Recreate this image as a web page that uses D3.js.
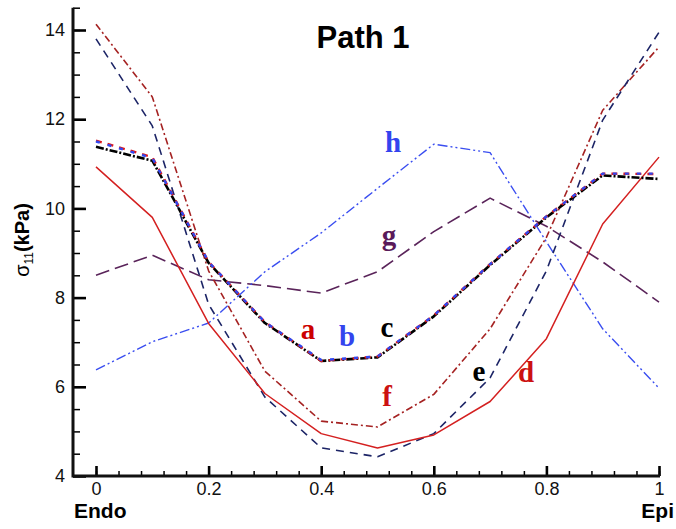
<!DOCTYPE html>
<html>
<head>
<meta charset="utf-8">
<script src="https://cdn.jsdelivr.net/npm/d3@7"></script>
<style>
  body { margin: 0; background: #fff; }
  svg { display: block; }
</style>
</head>
<body>
<svg id="chart" width="676" height="529"></svg>
<script>
// positions along the path (Endo -> Epi)
const xs    = [0, 0.1, 0.2, 0.3, 0.4, 0.5, 0.6, 0.7, 0.8, 0.9, 1.0];
const aVals = [11.52, 11.15, 8.80, 7.45, 6.58, 6.68, 7.60, 8.75, 9.82, 10.78, 10.77];
const bVals = [11.50, 11.13, 8.80, 7.45, 6.60, 6.68, 7.60, 8.75, 9.82, 10.78, 10.78];
const cVals = [11.38, 11.07, 8.78, 7.43, 6.58, 6.66, 7.58, 8.73, 9.80, 10.74, 10.66];
const dVals = [10.93, 9.80, 7.42, 5.85, 4.95, 4.63, 4.92, 5.67, 7.08, 9.65, 11.15];
const eVals = [13.80, 11.85, 7.85, 5.77, 4.63, 4.43, 4.95, 6.20, 8.60, 11.98, 13.95];
const fVals = [14.13, 12.50, 8.60, 6.35, 5.23, 5.10, 5.83, 7.30, 9.35, 12.20, 13.62];
const gVals = [8.50, 8.95, 8.40, 8.27, 8.10, 8.58, 9.48, 10.23, 9.60, 8.80, 7.90];
const hVals = [6.38, 7.01, 7.43, 8.58, 9.45, 10.45, 11.44, 11.25, 9.25, 7.30, 5.97];

const yMajor = [4, 6, 8, 10, 12, 14];
const xMajor = [0, 0.2, 0.4, 0.6, 0.8, 1];

const svg = d3.select("#chart");

const x = d3.scaleLinear().domain([0, 1]).range([96, 659]);
const y = d3.scaleLinear().domain([4, 14.5]).range([476, 7.7]);
const x0 = 73, yBase = y(4);

// series: values + style
const series = [
  { vals: gVals, color: "#5a245a", width: 1.6, dash: "14,6" },
  { vals: hVals, color: "#3a4ef0", width: 1.4, dash: "10,3,2,3,2,3" },
  { vals: fVals, color: "#a52222", width: 1.6, dash: "7,3,2,3" },
  { vals: eVals, color: "#1c2466", width: 1.6, dash: "8,6" },
  { vals: dVals, color: "#d42020", width: 1.5, dash: null },
  { vals: cVals, color: "#000000", width: 2.6, dash: "8,2,2,2" },
  { vals: aVals, color: "#e01818", width: 2.4, dash: "6,6" },
  { vals: bVals, color: "#3048f0", width: 2.4, dash: "4,8" }
];

const line = d3.line()
    .x((d, i) => x(xs[i]))
    .y(d => y(d));

svg.append("g").selectAll("path")
  .data(series).enter().append("path")
    .attr("d", d => line(d.vals))
    .attr("fill", "none")
    .attr("stroke", d => d.color)
    .attr("stroke-width", d => d.width)
    .attr("stroke-dasharray", d => d.dash)
    .attr("stroke-linejoin", "round");

// minor ticks
svg.append("g")
  .attr("transform", `translate(${x0},0)`)
  .call(d3.axisLeft(y).tickValues(d3.range(4, 14.6, 0.5)).tickSize(-7).tickFormat(""))
  .call(g => g.select(".domain").remove())
  .selectAll("line").attr("stroke-width", 1.5);

svg.append("g")
  .attr("transform", `translate(0,${yBase})`)
  .call(d3.axisBottom(x).tickValues(d3.range(0, 1.001, 0.04)).tickSize(-5).tickFormat(""))
  .call(g => g.select(".domain").remove())
  .selectAll("line").attr("stroke-width", 1.5);

// major ticks + labels
const yAx = svg.append("g")
  .attr("transform", `translate(${x0},0)`)
  .call(d3.axisLeft(y).tickValues(yMajor).tickSize(-13).tickPadding(8).tickFormat(d3.format("d")))
  .call(g => g.select(".domain").remove());
yAx.selectAll("line").attr("stroke-width", 2.6);
yAx.selectAll("text")
  .attr("font-family", "Liberation Sans, Arial, sans-serif")
  .attr("font-size", 18).attr("fill", "#111");

const xAx = svg.append("g")
  .attr("transform", `translate(0,${yBase})`)
  .call(d3.axisBottom(x).tickValues(xMajor).tickSize(-10).tickPadding(6)
    .tickFormat(d => d === 0 ? "0" : d === 1 ? "1" : d3.format(".1f")(d)))
  .call(g => g.select(".domain").remove());
xAx.selectAll("line").attr("stroke-width", 2.6);
xAx.selectAll("text")
  .attr("font-family", "Liberation Sans, Arial, sans-serif")
  .attr("font-size", 18).attr("fill", "#111");

// axis lines
svg.append("path")
  .attr("d", `M${x0},${y(14.5)}V${yBase}H${x(1) + 1}`)
  .attr("fill", "none")
  .attr("stroke", "#111")
  .attr("stroke-width", 3);

// title
svg.append("text")
  .attr("x", 363).attr("y", 48)
  .attr("text-anchor", "middle")
  .attr("font-family", "Liberation Sans, Arial, sans-serif")
  .attr("font-weight", "bold")
  .attr("font-size", 31)
  .text("Path 1");

// Endo / Epi
svg.append("text")
  .attr("x", 74).attr("y", 518)
  .attr("font-family", "Liberation Sans, Arial, sans-serif")
  .attr("font-weight", "bold").attr("font-size", 21)
  .text("Endo");
svg.append("text")
  .attr("x", 674).attr("y", 518)
  .attr("text-anchor", "end")
  .attr("font-family", "Liberation Sans, Arial, sans-serif")
  .attr("font-weight", "bold").attr("font-size", 21)
  .text("Epi");

// y label
const yl = svg.append("text")
  .attr("transform", "translate(29,240) rotate(-90)")
  .attr("text-anchor", "middle")
  .attr("font-family", "Liberation Sans, Arial, sans-serif")
  .attr("font-size", 20);
yl.append("tspan").text("σ");
yl.append("tspan").attr("font-size", 12).attr("dy", 4).text("11");
yl.append("tspan").attr("dy", -4).attr("font-weight", "bold").text("(kPa)");

// curve letters
const labels = [
  { t: "a", x: 308, y: 330, c: "#cc0000" },
  { t: "b", x: 347, y: 337, c: "#3344ee" },
  { t: "c", x: 387, y: 328, c: "#000000" },
  { t: "d", x: 526, y: 373, c: "#cc1111" },
  { t: "e", x: 479, y: 372, c: "#000000" },
  { t: "f", x: 387, y: 397, c: "#cc1111" },
  { t: "g", x: 389, y: 236, c: "#5a1a5a" },
  { t: "h", x: 393, y: 143, c: "#3344ee" }
];
svg.append("g").selectAll("text")
  .data(labels).enter().append("text")
    .attr("x", d => d.x).attr("y", d => d.y)
    .attr("dy", "0.3em")
    .attr("text-anchor", "middle")
    .attr("font-family", "Liberation Serif, Times New Roman, serif")
    .attr("font-weight", "bold")
    .attr("font-size", 29)
    .attr("fill", d => d.c)
    .text(d => d.t);
</script>
</body>
</html>
